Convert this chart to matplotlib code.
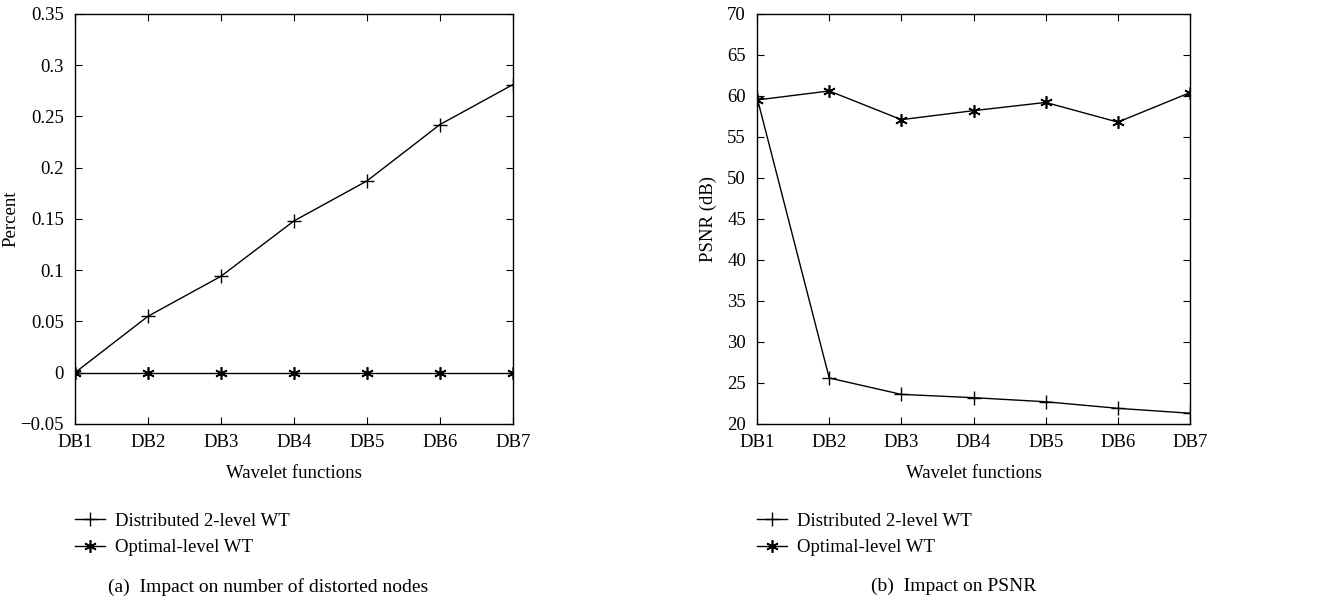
import numpy as np
import matplotlib.pyplot as plt

plt.rcParams['font.family'] = ['Liberation Serif', 'DejaVu Serif']
plt.rcParams['font.size'] = 13.5

# === data ===
wavelets = ["DB1", "DB2", "DB3", "DB4", "DB5", "DB6", "DB7"]
series_names = ["Distributed 2-level WT", "Optimal-level WT"]

distorted_2level = [0.0, 0.055, 0.094, 0.148, 0.187, 0.242, 0.281]
distorted_optimal = [0.0, 0.0, 0.0, 0.0, 0.0, 0.0, 0.0]

psnr_2level = [59.8, 25.6, 23.6, 23.2, 22.7, 21.9, 21.3]
psnr_optimal = [59.5, 60.6, 57.1, 58.2, 59.2, 56.8, 60.4]

fig = plt.figure(figsize=(13.27, 6.03), dpi=100)
ax1 = fig.add_axes([0.0565, 0.297, 0.330, 0.680])
ax2 = fig.add_axes([0.5705, 0.297, 0.3263, 0.680])

x = np.arange(len(wavelets))
asterisk = (6, 2, 0)


def draw(ax, y_a, y_b, ylim, yticks, ylabel, ticklabels, ylab_x):
    ax.plot(x, y_a, color='black', lw=1, marker='+', ms=10, mew=1, label=series_names[0])
    ax.plot(x, y_b, color='black', lw=1, marker=asterisk, ms=9, mew=1.2, label=series_names[1])
    ax.set_xlim(0, len(wavelets) - 1)
    ax.set_ylim(*ylim)
    ax.set_xticks(x)
    ax.set_xticklabels(wavelets)
    ax.set_yticks(yticks)
    ax.set_yticklabels(ticklabels)
    ax.tick_params(direction='in', top=True, right=True, length=5, width=0.8)
    ax.tick_params(axis='x', pad=7)
    ax.tick_params(axis='y', pad=8)
    for s in ax.spines.values():
        s.set_linewidth(1)
    ax.set_xlabel("Wavelet functions", labelpad=10)
    ax.set_ylabel(ylabel)
    ax.yaxis.set_label_coords(ylab_x, 0.5)
    ax.legend(loc='upper left', bbox_to_anchor=(-0.018, -0.198), frameon=False,
              handlelength=1.6, handletextpad=0.55, labelspacing=0.5, borderaxespad=0)


yt1 = [-0.05, 0, 0.05, 0.1, 0.15, 0.2, 0.25, 0.3, 0.35]
yl1 = ["\u22120.05", "0", "0.05", "0.1", "0.15", "0.2", "0.25", "0.3", "0.35"]
draw(ax1, distorted_2level, distorted_optimal, (-0.05, 0.35), yt1, "Percent", yl1, -0.126)

yt2 = list(range(20, 75, 5))
draw(ax2, psnr_2level, psnr_optimal, (20, 70), yt2, "PSNR (dB)", [str(v) for v in yt2], -0.092)

fig.text(0.202, 0.027, "(a)  Impact on number of distorted nodes", ha='center', va='center', fontsize=14)
fig.text(0.719, 0.027, "(b)  Impact on PSNR", ha='center', va='center', fontsize=14)

fig.savefig("out.png", dpi=100)
